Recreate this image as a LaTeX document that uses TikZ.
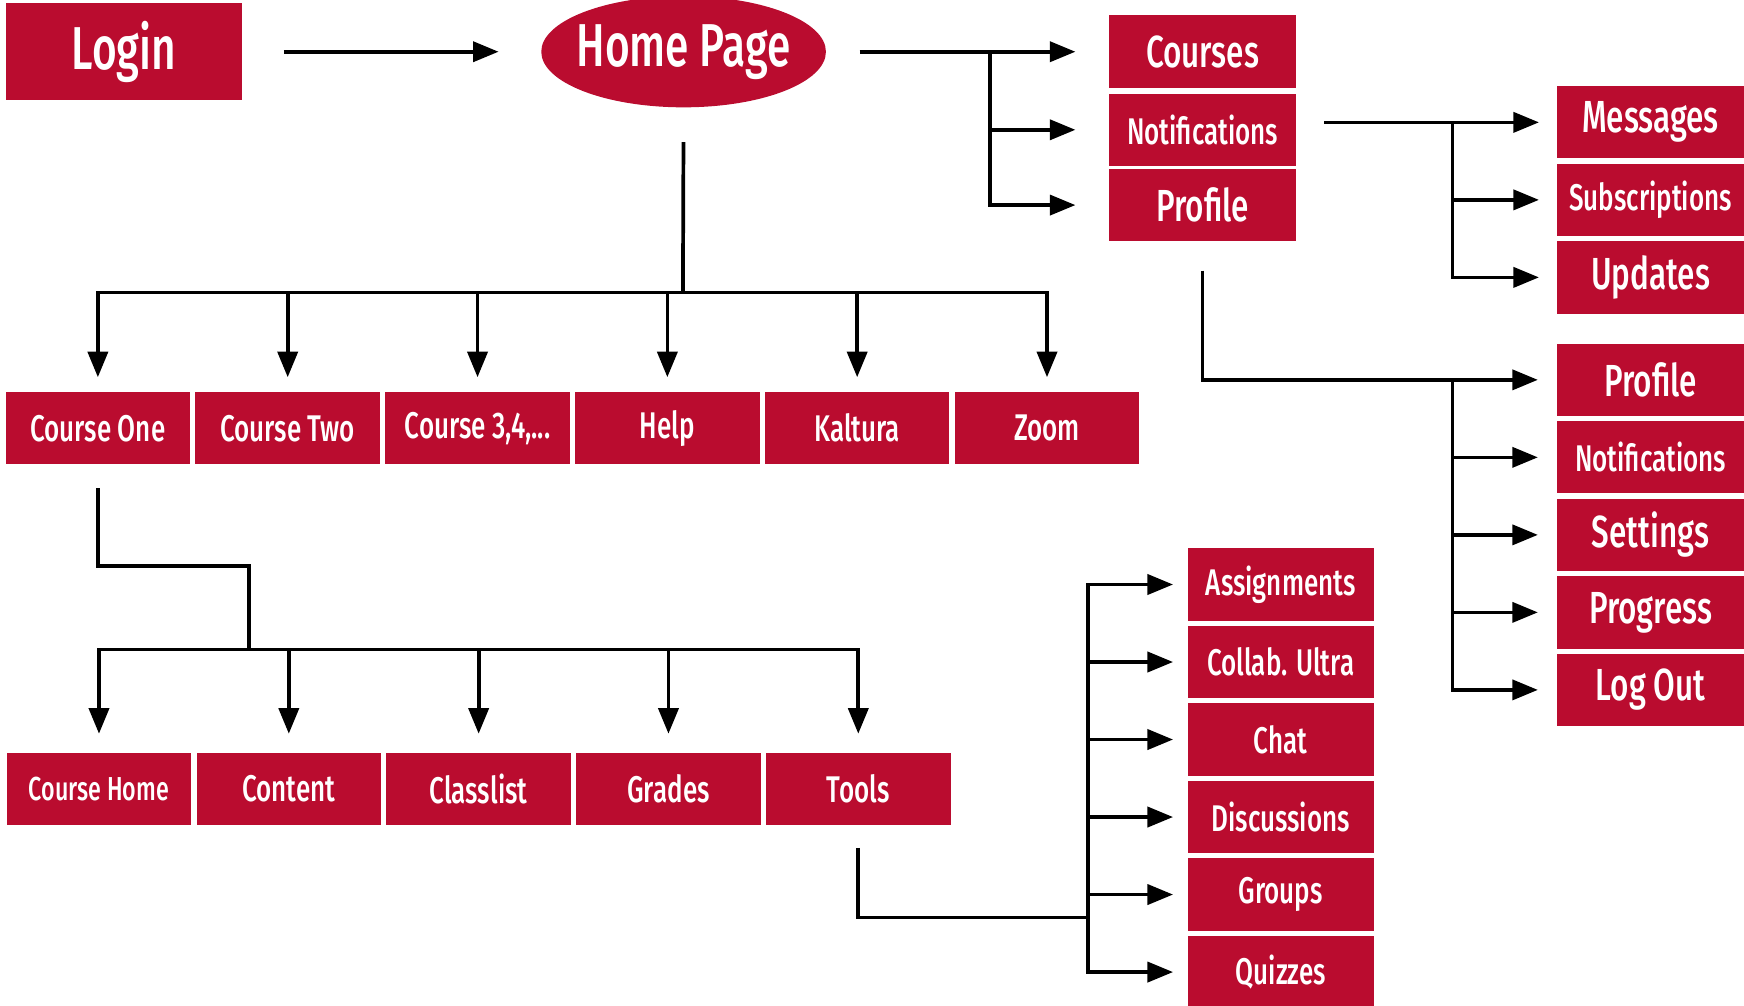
\documentclass[tikz,border=0pt]{standalone}
\usepackage{fontspec}
\setmainfont{Fira Sans}[FakeStretch=0.7, UprightFont=* Medium]
\usepackage{tikz}
\usetikzlibrary{arrows.meta, positioning, shapes.geometric}

\definecolor{lmsred}{RGB}{186,12,47}

\tikzset{
	menu/.style={fill=lmsred, text=white, inner sep=0pt, minimum width=3.32cm, minimum height=1.3cm, font=\fontsize{19}{22}\selectfont},
	bigtext/.style={font=\fontsize{23}{27}\selectfont},
	smalltext/.style={font=\fontsize{17}{20}\selectfont},
	hugetext/.style={font=\fontsize{31}{36}\selectfont},
	link/.style={draw, line width=1.9pt},
	linkarrow/.style={link, -{Triangle[length=0.46cm, width=0.36cm]}}
}

\begin{document}
\begin{tikzpicture}[x=0.02cm, y=-0.02cm]
\useasboundingbox (0,0) rectangle (1568,904);

% top level
\node [menu, hugetext, minimum width=4.26cm, minimum height=1.74cm] (login) at (111.5,46.5) {Login};
\node [menu, hugetext, ellipse, inner xsep=-0.3cm, minimum width=5.12cm, minimum height=2cm, right=5.36cm of login] (home) {Home Page};

\draw [linkarrow, shorten <=0.74cm, shorten >=0.76cm] (login) -- (home);

% menus next to home
\node [menu, bigtext, minimum width=3.36cm, minimum height=1.32cm, right=5.08cm of home] (courses) {Courses};
\node [menu, minimum width=3.36cm, below=0.08cm of courses] (notif) {Notifications};
\node [menu, bigtext, minimum width=3.36cm, below=0.04cm of notif] (profile) {Profile};

\coordinate (homesplit) at ([xshift=2.94cm]home.east);
\draw [link, shorten <=0.6cm] (home.east) -- (homesplit);
\foreach \n in {courses, notif, profile}
	\draw [linkarrow, shorten >=0.6cm] (homesplit) |- (\n.west);

% notifications
\node [menu, bigtext, minimum width=3.36cm] (messages) at (1484,110) {Messages};
\node [menu, minimum width=3.36cm, below=0.08cm of messages] (subs) {Subscriptions};
\node [menu, bigtext, minimum width=3.36cm, below=0.08cm of subs] (updates) {Updates};

\coordinate (notifsplit) at (1306,110);
\draw [link, shorten <=0.5cm] (notif.east |- notifsplit) -- (notifsplit);
\foreach \n in {messages, subs, updates}
	\draw [linkarrow, shorten >=0.32cm] (notifsplit) |- (\n.west);

% profile
\node [menu, bigtext, minimum width=3.36cm] (myprofile) at (1484,341.5) {Profile};
\node [menu, minimum width=3.36cm, below=0.08cm of myprofile] (mynotif) {Notifications};
\node [menu, bigtext, minimum width=3.36cm, below=0.08cm of mynotif] (settings) {Settings};
\node [menu, bigtext, minimum width=3.36cm, below=0.08cm of settings] (progress) {Progress};
\node [menu, bigtext, minimum width=3.36cm, below=0.08cm of progress] (logout) {Log Out};

\coordinate (profilesplit) at (1306,341.5);
\draw [link, shorten <=0.52cm] (profile.south) |- (profilesplit);
\foreach \n in {myprofile, mynotif, settings, progress, logout}
	\draw [linkarrow, shorten >=0.34cm] (profilesplit) |- (\n.west);

% courses
\node [menu] (courseone) at (88,385) {Course One};
\node [menu, right=0.08cm of courseone] (coursetwo) {Course Two};
\node [menu, right=0.08cm of coursetwo] (coursemore) {Course 3,4,...};
\node [menu, right=0.08cm of coursemore] (help) {Help};
\node [menu, right=0.08cm of help] (kaltura) {Kaltura};
\node [menu, right=0.08cm of kaltura] (zoom) {Zoom};

\coordinate (homebar) at (614,263);
\draw [link, shorten <=0.62cm] (home.south) -- (homebar);
\foreach \n in {courseone, coursetwo, coursemore, help, kaltura, zoom}
	\draw [linkarrow, shorten >=0.26cm] (homebar) -| (\n.north);

% inside a course
\node [menu, smalltext] (coursehome) at (89,709.5) {Course Home};
\node [menu, right=0.08cm of coursehome] (content) {Content};
\node [menu, right=0.08cm of content] (classlist) {Classlist};
\node [menu, right=0.08cm of classlist] (grades) {Grades};
\node [menu, right=0.08cm of grades] (tools) {Tools};

\coordinate (coursestep) at (224,509);
\coordinate (coursebar) at (224,584);
\draw [link, shorten <=0.42cm] (courseone.south) |- (coursestep) -- (coursebar);
\foreach \n in {coursehome, content, classlist, grades, tools}
	\draw [linkarrow, shorten >=0.34cm] (coursebar) -| (\n.north);

% tools
\node [menu, minimum width=3.34cm] (assign) at (1151.5,525.5) {Assignments};
\node [menu, minimum width=3.34cm, below=0.08cm of assign] (collab) {Collab. Ultra};
\node [menu, minimum width=3.34cm, below=0.08cm of collab] (chat) {Chat};
\node [menu, minimum width=3.34cm, below=0.08cm of chat] (discuss) {Discussions};
\node [menu, minimum width=3.34cm, below=0.08cm of discuss] (groups) {Groups};
\node [menu, minimum width=3.34cm, below=0.08cm of groups] (quizzes) {Quizzes};

\coordinate (toolsbar) at (978,825);
\draw [link, shorten <=0.4cm] (tools.south) |- (toolsbar);
\foreach \n in {assign, collab, chat, discuss, groups, quizzes}
	\draw [linkarrow, shorten >=0.26cm] (toolsbar) |- (\n.west);

\end{tikzpicture}
\end{document}
